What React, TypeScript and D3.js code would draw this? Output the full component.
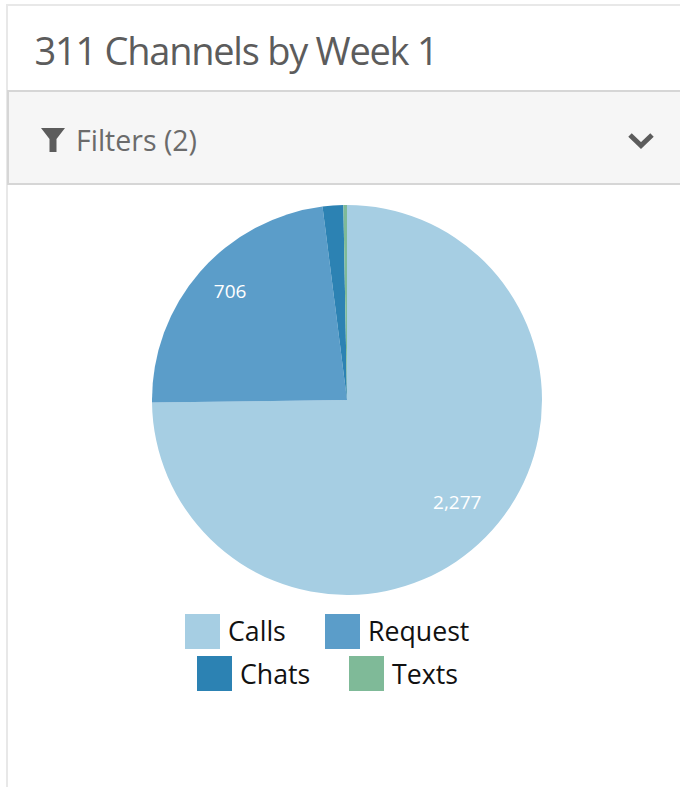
import * as d3 from 'd3'
import { useEffect, useRef } from 'react'

const categories = ['Calls', 'Request', 'Chats', 'Texts']
const values = [2277, 706, 52, 9]
const colors = ['#a6cee3', '#5b9dc9', '#2c82b3', '#7fba98']
const title = '311 Channels by Week 1'
const filterText = 'Filters (2)'

const W = 680
const H = 787
const FONT = '"Open Sans", sans-serif'

const legendRows = [
  { y: 614, textY: 641, items: [{ i: 0, x: 185 }, { i: 1, x: 325 }] },
  { y: 656, textY: 684, items: [{ i: 2, x: 197 }, { i: 3, x: 349 }] },
]

function App() {
  const ref = useRef<SVGSVGElement>(null)

  useEffect(() => {
    const svg = d3.select(ref.current)
    svg.selectAll('*').remove()

    // card frame
    svg.append('rect').attr('width', W).attr('height', H).attr('fill', '#fff')
    svg.append('rect').attr('x', 6).attr('y', 4).attr('width', W - 6).attr('height', 2).attr('fill', '#e8e8e8')
    svg.append('rect').attr('x', 6).attr('y', 4).attr('width', 2).attr('height', H - 4).attr('fill', '#e8e8e8')

    svg.append('text')
      .attr('x', 34.5).attr('y', 64.5)
      .attr('font-family', FONT).attr('font-size', 38)
      .attr('letter-spacing', -1.25)
      .attr('fill', '#5c5c5c')
      .text(title)

    // filter bar
    svg.append('rect').attr('x', 8).attr('y', 91).attr('width', W).attr('height', 93)
      .attr('fill', '#f6f6f6').attr('stroke', '#d6d6d6').attr('stroke-width', 2)
    svg.append('path')
      .attr('d', 'M41 128H65L56.5 139V152H49.5V139Z')
      .attr('fill', '#5c5c5c')
    svg.append('text')
      .attr('x', 76).attr('y', 151)
      .attr('font-family', FONT).attr('font-size', 28.5)
      .attr('fill', '#6b6b6b')
      .text(filterText)
    svg.append('path')
      .attr('d', 'M630 135L641 145.5L652 135')
      .attr('fill', 'none').attr('stroke', '#5c5c5c').attr('stroke-width', 5)

    // pie
    const pie = d3.pie<number>().sort(null)
    const arc = d3.arc<d3.PieArcDatum<number>>().innerRadius(0).outerRadius(195)
    const labelArc = d3.arc<d3.PieArcDatum<number>>().innerRadius(155).outerRadius(155)
    const fmt = d3.format(',')
    const g = svg.append('g').attr('transform', 'translate(347,400)')
    const arcs = pie(values)

    g.selectAll('path').data(arcs).enter().append('path')
      .attr('d', arc)
      .attr('fill', (_, i) => colors[i])

    g.selectAll('text').data(arcs.filter(d => d.value > 100)).enter().append('text')
      .attr('x', d => labelArc.centroid(d)[0])
      .attr('y', d => labelArc.centroid(d)[1] - 6.5)
      .attr('dy', '0.35em')
      .attr('text-anchor', 'middle')
      .attr('font-family', FONT).attr('font-size', 19)
      .attr('fill', '#fff')
      .text(d => fmt(d.value))

    // legend
    const legend = svg.append('g')
    legendRows.forEach(row => {
      row.items.forEach(it => {
        legend.append('rect')
          .attr('x', it.x).attr('y', row.y).attr('width', 35).attr('height', 35)
          .attr('fill', colors[it.i])
        legend.append('text')
          .attr('x', it.x + 43).attr('y', row.textY)
          .attr('font-family', FONT).attr('font-size', 26.7)
          .attr('fill', '#111')
          .text(categories[it.i])
      })
    })
  }, [])

  return (
    <svg ref={ref} width={W} height={H}
      style={{ position: 'absolute', left: 0, top: 0, display: 'block' }} />
  )
}

export default App
